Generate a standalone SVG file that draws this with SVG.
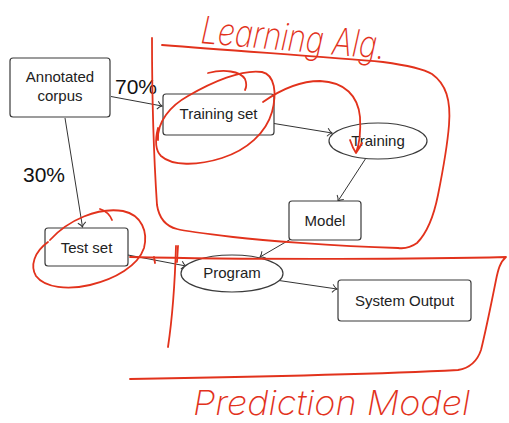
<svg xmlns="http://www.w3.org/2000/svg" width="509" height="423" viewBox="0 0 509 423">
  <style>
    .box { fill: #fff; stroke: #3a3a3a; stroke-width: 1.2; }
    .lbl { font-family: "Liberation Sans", Arial, sans-serif; font-size: 15px; fill: #222; text-anchor: middle; }
    .pct { font-family: "Liberation Sans", Arial, sans-serif; font-size: 21px; fill: #111; }
    .edge { fill: none; stroke: #333; stroke-width: 1; marker-end: url(#to); }
    .ink { fill: none; stroke: #e2321c; stroke-width: 1.8; stroke-linecap: round; stroke-linejoin: round; }
    .hand { font-family: Inter, Lato, "DejaVu Sans", sans-serif; font-weight: 200; font-style: italic; fill: #e2321c; }
  </style>
  <defs>
    <marker id="to" markerUnits="userSpaceOnUse" markerWidth="10" markerHeight="10" viewBox="-6 -5 8 10" refX="0" refY="0" orient="auto">
      <path d="M-4.5,-4 C-3,-1.8 -1.2,-0.5 0,0 C-1.2,0.5 -3,1.8 -4.5,4" fill="none" stroke="#333" stroke-width="1"/>
    </marker>
  </defs>

  <rect width="509" height="423" fill="#fff"/>

  <!-- connectors -->
  <g id="connectors">
    <path class="edge" d="M111,96.5 L162,106"/>
    <path class="edge" d="M65,118 L82.5,227"/>
    <path class="edge" d="M274,123.5 L332,133"/>
    <path class="edge" d="M366,158 L338,201"/>
    <path class="edge" d="M290,239.5 L260,257"/>
    <path class="edge" d="M128,255 L186,266"/>
    <path class="edge" d="M279,280.5 L337,289"/>
    <text class="pct" x="115" y="94">70%</text>
    <text class="pct" x="23" y="182">30%</text>
  </g>

  <!-- nodes -->
  <g id="corpus">
    <rect class="box" x="10" y="58" width="100" height="59" rx="3"/>
    <text class="lbl" x="60" y="82">Annotated</text>
    <text class="lbl" x="60" y="101">corpus</text>
  </g>
  <g id="training-set">
    <rect class="box" x="163" y="94" width="111" height="41" rx="3"/>
    <text class="lbl" x="218.5" y="119">Training set</text>
  </g>
  <g id="training">
    <ellipse class="box" cx="378" cy="141" rx="49" ry="18"/>
    <text class="lbl" x="378" y="146">Training</text>
  </g>
  <g id="model">
    <rect class="box" x="289" y="201" width="72" height="39" rx="3"/>
    <text class="lbl" x="325" y="226">Model</text>
  </g>
  <g id="test-set">
    <rect class="box" x="45" y="228" width="83" height="38" rx="3"/>
    <text class="lbl" x="86.5" y="253">Test set</text>
  </g>
  <g id="program">
    <ellipse class="box" cx="232" cy="273.5" rx="51" ry="18.5"/>
    <text class="lbl" x="232" y="278">Program</text>
  </g>
  <g id="system-output">
    <rect class="box" x="338" y="280" width="133" height="41" rx="3"/>
    <text class="lbl" x="404.5" y="306">System Output</text>
  </g>

  <!-- hand-drawn annotations -->
  <g id="annotations">
    <!-- learning algorithm region -->
    <path class="ink" d="M162,45 C250,52 330,57 383,62 C405,65 422,68 432,74 C446,84 451,100 449,125 C447,150 442,175 438,195 C434,215 428,232 417,243 C410,248 405,249 398,248 C330,246 260,240 233,237 C200,233 185,231 177,229 C165,226 159,218 157,205 C154,160 152,100 152,38"/>
    <path class="ink" d="M158,140 C157,122 170,106 188,96 C212,82 242,69 262,72 C275,75 277,93 272,112 C266,133 247,150 222,158 C197,166 172,166 161,156 C155,150 155,140 158,128"/>
    <path class="ink" d="M208,73 C224,69 240,71 245,79 C247,84 246,88 245,90"/>
    <path class="ink" d="M263,102 C280,90 300,81 320,81 C345,82 358,96 360,117 C361,133 359,145 356,153 M350,140 C352,146 354,150 356,153 C358,150 360,147 362,143"/>
    <!-- test set circle -->
    <path class="ink" d="M50,240 C68,220 98,207 123,211 C142,215 148,232 144,248 C138,266 115,279 90,285 C68,290 45,288 36,276 C30,266 34,252 48,242"/>
    <path class="ink" d="M100,209 C106,211 110,215 112,220"/>
    <!-- prediction model region -->
    <path class="ink" d="M130,257 C260,260 430,259 506,257 C500,262 498,270 496,280 C492,300 486,330 481,350 C477,362 470,368 458,370 C380,374 250,377 130,379"/>
    <path class="ink" d="M176,246 C175,280 172,320 168,347"/>
    <path class="ink" d="M178,246 L177,262"/>
    <path class="ink" d="M154,257 L155,263"/>
    <text class="hand" x="200" y="43" font-size="38" textLength="185" lengthAdjust="spacingAndGlyphs" transform="rotate(5 200 43)">Learning Alg.</text>
    <text class="hand" x="193" y="415" font-size="34" textLength="277" lengthAdjust="spacingAndGlyphs">Prediction Model</text>
  </g>
</svg>
